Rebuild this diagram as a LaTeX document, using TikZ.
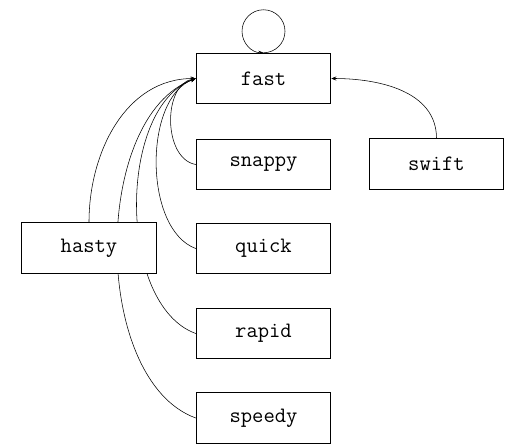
\documentclass[tikz,border=0pt]{standalone}
\usetikzlibrary{arrows.meta}
\pgfdeclarelayer{bg}
\pgfsetlayers{bg,main}
\begin{document}
\begin{tikzpicture}[x=1pt,y=1pt,
  wordbox/.style={draw=black, line width=1pt, fill=white, minimum width=134.5pt, minimum height=50.5pt, inner sep=0pt, font=\fontsize{22}{22}\selectfont\ttfamily},
  conn/.style={line width=0.55pt, -{Stealth[length=5pt,width=4pt]}}]
\useasboundingbox (0,0) rectangle (520,-445);
\node[wordbox] (fast) at (263.5,-78.5) {fast};
\node[wordbox] (snappy) at (263.5,-164.5) {snappy};
\node[wordbox] (quick) at (263.5,-248.5) {quick};
\node[wordbox] (hasty) at (89,-248) {hasty};
\node[wordbox] (rapid) at (263.5,-333.5) {rapid};
\node[wordbox] (speedy) at (263.5,-418) {speedy};
\node[wordbox] (swift) at (436.5,-164) {swift};
\begin{pgfonlayer}{bg}
\fill[white] (0,0) rectangle (520,-445);
\draw[conn] (hasty.north) to[out=90,in=180] (fast.west);
\draw[conn] (snappy.west) to[out=170,in=190,looseness=1] (fast.west);
\draw[conn] (quick.west) to[out=160,in=200,looseness=0.84] (fast.west);
\draw[conn] (rapid.west) to[out=160,in=200,looseness=0.84] (fast.west);
\draw[conn] (speedy.west) to[out=160,in=200,looseness=0.84] (fast.west);
\draw[conn] (swift.north) to[out=90,in=0] (fast.east);
\draw[conn] (fast.north) arc[start angle=-90,end angle=270,radius=21.5pt];
\end{pgfonlayer}
\end{tikzpicture}
\end{document}
